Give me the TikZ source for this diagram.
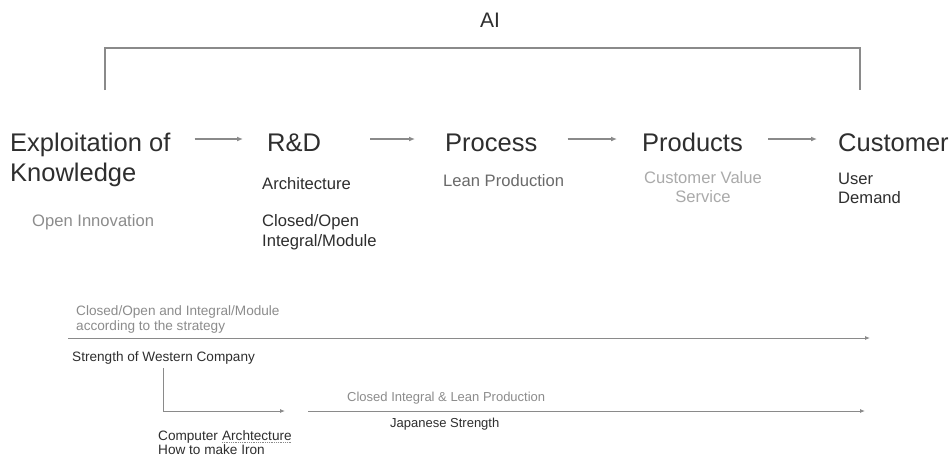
\documentclass[tikz,border=0pt]{standalone}
\usepackage{fontspec}
\setmainfont{Liberation Sans}
\usetikzlibrary{arrows.meta}
\definecolor{ink}{HTML}{2E2E2E}
\definecolor{midgray}{HTML}{6A6A6A}
\definecolor{softgray}{HTML}{8C8C8C}
\definecolor{palegray}{HTML}{AAAAAA}
\definecolor{linegray}{HTML}{8A8A8A}
\begin{document}
\begin{tikzpicture}[x=1pt,y=-1pt,
  big/.style={anchor=base west, inner sep=0pt, text=ink, font=\fontsize{25.5}{30}\selectfont},
  mid/.style={anchor=base west, inner sep=0pt, text=ink, font=\fontsize{16.6}{20}\selectfont},
  small/.style={anchor=base west, inner sep=0pt, text=ink, font=\fontsize{13.6}{16}\selectfont},
  tiny/.style={small, font=\fontsize{13}{15}\selectfont},
  flow/.style={draw=linegray, line width=1.6pt, -{Latex[length=6pt,width=5pt]}},
  thinflow/.style={draw=linegray, line width=0.9pt, -{Latex[length=5pt,width=4pt]}},
  bracket/.style={draw=linegray, line width=1.1pt}]
  \useasboundingbox[fill=white] (0,0) rectangle (950,458);

  % top bracket labelled AI
  \node[inner sep=0pt, text=ink, font=\fontsize{21}{25}\selectfont] (ai) at (490,20) {AI};
  \coordinate (bl) at (105,90);
  \coordinate (br) at (860,90);
  \draw[bracket] (bl) |- (br |- 0,48) -- (br);

  % main chain
  \node[big] (e1) at (10,151) {Exploitation of};
  \node[big] (e2) at (10,181) {Knowledge};
  \node[big] (rd) at (267,151) {R\&D};
  \node[big] (pr) at (445,151) {Process};
  \node[big] (pd) at (642,151) {Products};
  \node[big] (cu) at (838,151) {Customer};

  \draw[flow] ([xshift=24pt,yshift=12pt]e1.base east) -- ([xshift=-24pt,yshift=12pt]rd.base west);
  \draw[flow] ([xshift=49pt,yshift=12pt]rd.base east) -- ([xshift=-30pt,yshift=12pt]pr.base west);
  \draw[flow] ([xshift=30pt,yshift=12pt]pr.base east) -- ([xshift=-25pt,yshift=12pt]pd.base west);
  \draw[flow] ([xshift=25pt,yshift=12pt]pd.base east) -- ([xshift=-21pt,yshift=12pt]cu.base west);

  % notes under each step
  \node[mid, text=softgray] (oi) at (32,226) {Open Innovation};
  \node[mid] (arch) at (262,189) {Architecture};
  \node[mid] (co) at (262,226) {Closed/Open};
  \node[mid] (im) at (262,246) {Integral/Module};
  \node[mid, text=midgray] (lp) at (443,186) {Lean Production};
  \node[mid, text=palegray, anchor=base] (cv) at (703,183) {Customer Value};
  \node[mid, text=palegray, anchor=base] (sv) at (703,202) {Service};
  \node[mid] (us) at (838,184) {User};
  \node[mid] (dm) at (838,203) {Demand};

  % western strength line
  \node[small, text=softgray] (w1) at (76,315) {Closed/Open and Integral/Module};
  \node[small, text=softgray] (w2) at (76,330) {according to the strategy};
  \coordinate (wl) at (68,338);
  \coordinate (wr) at (870,338);
  \draw[thinflow] (wl) -- (wr);
  \node[small] (ws) at (72,361) {Strength of Western Company};

  % branch to computer architecture
  \coordinate (ce) at (285,411);
  \draw[thinflow] ([yshift=-4pt]ws.south) |- (ce);
  \node[small] (ca) at (158,440) {Computer};
  \node[small] (cb) at ([xshift=3.8pt]ca.base east) {Archtecture};
  \draw[linegray, line width=0.8pt, densely dotted] ([yshift=-2.5pt]cb.base west) -- ([yshift=-2.5pt]cb.base east);
  \node[small] (hi) at (158,454) {How to make Iron};

  % japanese strength line
  \coordinate (jl) at (308,411);
  \coordinate (jr) at (865,411);
  \draw[thinflow] (jl) -- (jr);
  \node[tiny, text=softgray] (cl) at (347,401) {Closed Integral \& Lean Production};
  \node[tiny] (js) at (390,427) {Japanese Strength};
\end{tikzpicture}
\end{document}
